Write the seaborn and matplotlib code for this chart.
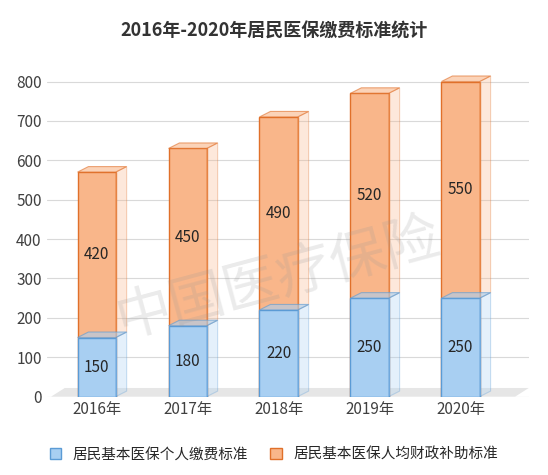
import matplotlib
matplotlib.use("Agg")
import matplotlib.pyplot as plt
import pandas as pd
import seaborn as sns
from matplotlib.patches import Polygon, Patch

years = ["2016年", "2017年", "2018年", "2019年", "2020年"]
personal = [150, 180, 220, 250, 250]
subsidy = [420, 450, 490, 520, 550]

df = pd.DataFrame({"year": years, "personal": personal, "subsidy": subsidy})
df["total"] = df["personal"] + df["subsidy"]

sns.set_theme(style="white")
plt.rcParams["font.family"] = ["Noto Sans CJK SC", "DejaVu Sans"]

fig = plt.figure(figsize=(5.48, 4.75), dpi=100)
ax = fig.add_axes([0.085, 0.165, 0.88, 0.68])

orange, orange_edge = "#F9B68A", "#E0702A"
blue, blue_edge = "#A8CFF2", "#5B9BD5"

sns.barplot(data=df, x="year", y="total", color=orange, edgecolor=orange_edge,
            linewidth=1, width=0.42, ax=ax, saturation=1)
sns.barplot(data=df, x="year", y="personal", color=blue, edgecolor=blue_edge,
            linewidth=1, width=0.42, ax=ax, saturation=1)

# fake 3D depth from the drawn bars
dx, dy = 0.12, 14
n = len(years)
for k, p in enumerate(ax.patches):
    x0, w = p.get_x(), p.get_width()
    top = p.get_y() + p.get_height()
    if k < n:  # orange part: only above the blue part
        y0 = personal[k]
        fc, ec = orange, orange_edge
    else:
        y0 = 0
        fc, ec = blue, blue_edge
    ax.add_patch(Polygon([(x0 + w, y0), (x0 + w + dx, y0 + dy), (x0 + w + dx, top + dy), (x0 + w, top)],
                         closed=True, facecolor=fc, edgecolor=ec, alpha=0.3, lw=0.8, zorder=p.get_zorder()))
    ax.add_patch(Polygon([(x0, top), (x0 + dx, top + dy), (x0 + w + dx, top + dy), (x0 + w, top)],
                         closed=True, facecolor=fc, edgecolor=ec, alpha=0.6, lw=0.8, zorder=p.get_zorder()))

# floor
ax.add_patch(Polygon([(-0.5, 0), (-0.35, 22), (4.75, 22), (4.6, 0)], closed=True,
                     facecolor="#E6E6E6", edgecolor="none", zorder=0))

for i in range(n):
    ax.text(i, personal[i] / 2, str(personal[i]), ha="center", va="center", fontsize=11)
    ax.text(i, personal[i] + subsidy[i] / 2, str(subsidy[i]), ha="center", va="center", fontsize=11)

ax.text(2, 300, "中国医疗保险", fontsize=40, color="#999999", alpha=0.2, ha="center",
        va="center", rotation=15, zorder=5)

ax.set_ylim(0, 820)
ax.set_xlim(-0.55, 4.75)
ax.set_yticks(range(0, 801, 100))
ax.yaxis.grid(True, color="#D9D9D9", lw=0.8)
ax.set_axisbelow(True)
ax.set_xlabel("")
ax.set_ylabel("")
ax.tick_params(axis="both", labelsize=11, length=0, colors="#404040")
for s in ax.spines.values():
    s.set_visible(False)

fig.suptitle("2016年-2020年居民医保缴费标准统计", y=0.955, fontsize=13, fontweight="bold", color="#333333")
fig.legend(handles=[Patch(facecolor=blue, edgecolor=blue_edge, label="居民基本医保个人缴费标准"),
                    Patch(facecolor=orange, edgecolor=orange_edge, label="居民基本医保人均财政补助标准")],
           loc="lower center", ncol=2, frameon=False, fontsize=10.5, bbox_to_anchor=(0.5, 0.0),
           handlelength=0.8, handleheight=0.8, columnspacing=1.5)

fig.savefig("out.png", dpi=100)
